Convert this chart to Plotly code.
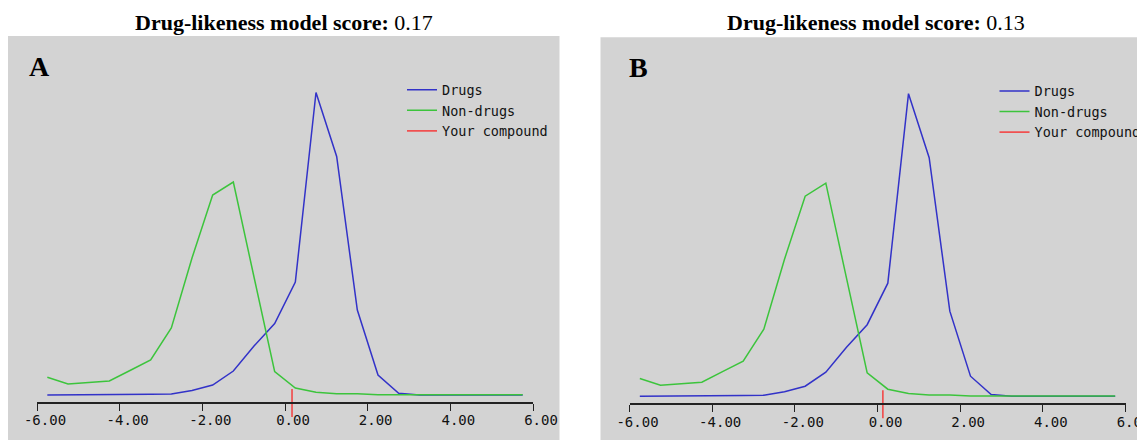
import plotly.graph_objects as go

# ---------------- data ----------------
bin_centers = [-5.75, -5.25, -4.75, -4.25, -3.75, -3.25, -2.75, -2.25, -1.75, -1.25,
               -0.75, -0.25, 0.25, 0.75, 1.25, 1.75, 2.25, 2.75, 3.25, 3.75,
               4.25, 4.75, 5.25, 5.75]
drugs = [0, 0, 0, 0, 0, 0.7, 1.0, 4.5, 10, 24,
         49, 71.5, 113, 302.5, 238.5, 85, 20, 1.7, 0, 0,
         0, 0, 0, 0]
non_drugs = [17.7, 11, 12.4, 14, 24.5, 35, 67, 137, 200, 213,
             118, 23.3, 7, 2.7, 1.3, 1.3, 0.3, 0.3, 0.3, 0.3,
             0.3, 0.3, 0.3, 0.3]
scores = [0.17, 0.13]
panel_letters = ["A", "B"]
compound_marker = [6, -22]          # vertical extent of the "Your compound" mark
tick_values = [-6, -4, -2, 0, 2, 4, 6]
tick_labels = ["-6.00", "-4.00", "-2.00", "0.00", "2.00", "4.00", "6.00"]

# ---------------- layout helpers ----------------
# the page body has an 8px margin, so the figure is drawn from page pixel 8
OFF = 8
W, H = 1145 - OFF, 440 - OFF
def fx(p):
    return (p - OFF) / W
def fy(p):
    return 1 - (p - OFF) / H

BLUE = "#3232c8"
GREEN = "#3cc43c"
RED = "#f05050"
GRAY = "#d3d3d3"
MONO = "DejaVu Sans Mono"
SERIF = "Liberation Serif"

panel_dx = [0, 592.5]
panel_dy = [0, 1.2]

fig = go.Figure()
shapes = []
annotations = []

for i in range(2):
    dx = panel_dx[i]
    dy = panel_dy[i]
    xa = "x" if i == 0 else "x2"
    ya = "y" if i == 0 else "y2"
    lg = "legend" if i == 0 else "legend2"

    fig.add_trace(go.Scatter(x=bin_centers, y=drugs, mode="lines", name="Drugs",
                             line=dict(color=BLUE, width=1.5), xaxis=xa, yaxis=ya,
                             legend=lg, hoverinfo="skip"))
    fig.add_trace(go.Scatter(x=bin_centers, y=non_drugs, mode="lines", name="Non-drugs",
                             line=dict(color=GREEN, width=1.5), xaxis=xa, yaxis=ya,
                             legend=lg, hoverinfo="skip"))
    fig.add_trace(go.Scatter(x=[scores[i], scores[i]], y=compound_marker, mode="lines",
                             name="Your compound", line=dict(color=RED, width=1.7),
                             xaxis=xa, yaxis=ya, legend=lg, hoverinfo="skip"))

    xdom = [fx(37 + dx), fx(533 + dx)]
    base = 395 + dy
    yrange = [-(440 - base), base - 37]
    axis_pos = fy(402.7 + dy)

    xaxis = dict(domain=xdom, range=[-6, 6], anchor="free", position=axis_pos,
                 showgrid=False, zeroline=False, showline=True, linecolor="#222",
                 linewidth=1.6, ticks="outside", ticklen=7, tickwidth=1.4, tickcolor="#222",
                 tickvals=tick_values, ticktext=tick_labels, ticklabelshift=8,
                 ticklabelstandoff=-2, ticklabeloverflow="allow",
                 tickfont=dict(family=MONO, size=14, color="#111"), fixedrange=True)
    yaxis = dict(domain=[0, fy(37)], range=yrange, visible=False, showgrid=False,
                 zeroline=False, fixedrange=True)
    if i == 0:
        fig.update_layout(xaxis=xaxis, yaxis=yaxis)
    else:
        yaxis["anchor"] = "x2"
        fig.update_layout(xaxis2=xaxis, yaxis2=yaxis)

    shapes.append(dict(type="rect", xref="paper", yref="paper",
                       x0=fx(8 + dx), x1=min(1.0, fx(559.5 + dx)), y0=0, y1=fy(36 + dy),
                       fillcolor=GRAY, line=dict(width=0), layer="below"))

    annotations.append(dict(text="<b>Drug-likeness model score:</b> %.2f" % scores[i],
                            xref="paper", yref="paper", x=fx(284 + dx), y=fy(23),
                            xanchor="center", yanchor="middle", showarrow=False,
                            font=dict(family=SERIF, size=22, color="black")))
    annotations.append(dict(text="<b>%s</b>" % panel_letters[i], xref="paper", yref="paper",
                            x=fx([39, 638][i]), y=fy(66 + dy), xanchor="center",
                            yanchor="middle", showarrow=False,
                            font=dict(family=SERIF, size=28, color="black")))

legend_common = dict(xanchor="left", yanchor="top", bgcolor="rgba(0,0,0,0)",
                     borderwidth=0, font=dict(family=MONO, size=13.5, color="#111"),
                     tracegroupgap=0, itemclick=False, itemdoubleclick=False)
fig.update_layout(
    legend=dict(x=fx(402), y=fy(74.5), **legend_common),
    legend2=dict(x=fx(402 + 592.5), y=fy(75.7), **legend_common),
)

fig.update_layout(
    width=W, height=H,
    margin=dict(l=0, r=0, t=0, b=0, autoexpand=False),
    paper_bgcolor="white",
    plot_bgcolor="rgba(0,0,0,0)",
    shapes=shapes,
    annotations=annotations,
    showlegend=True,
)

fig.write_html("out.html")
